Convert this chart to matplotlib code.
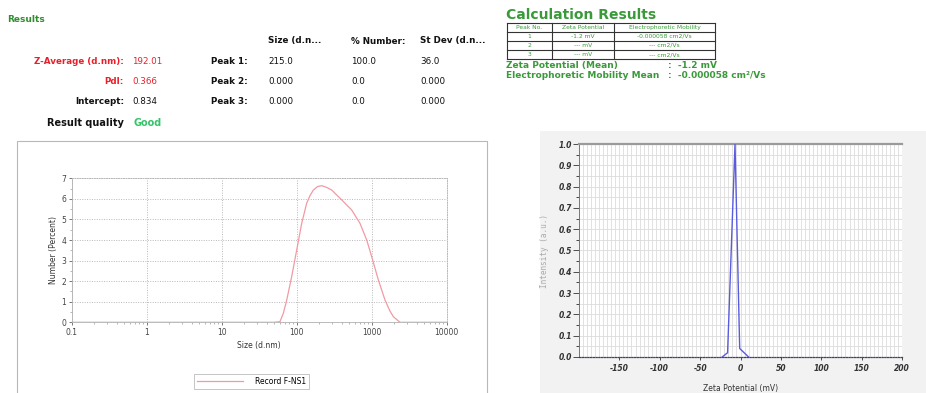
import matplotlib
matplotlib.use("Agg")
import matplotlib.pyplot as plt
from matplotlib.patches import Rectangle
from matplotlib.lines import Line2D
from matplotlib.ticker import MultipleLocator, FixedLocator, NullFormatter
import numpy as np

plt.rcParams["axes.unicode_minus"] = False

# ---------------- data ----------------
size_nm = [0.1, 1, 10, 50, 59.8, 66.5, 73.6, 85.7, 100, 116.6, 135.9, 150, 166.7, 190, 215,
           250, 292.9, 398, 541, 698, 858, 1000, 1226, 1506, 1750, 1945, 2387, 5000, 10000]
number_pct = [0, 0, 0, 0, 0.03, 0.45, 1.08, 2.22, 3.51, 4.81, 5.79, 6.15, 6.43, 6.6, 6.64,
              6.56, 6.43, 5.95, 5.46, 4.81, 4.0, 3.19, 2.06, 1.08, 0.55, 0.27, 0.0, 0, 0]

zeta_mv = [-22.7, -16, -6.8, -1, 10]
zeta_int = [0.0, 0.02, 1.0, 0.04, 0.0]

size_ticks = [0.1, 1, 10, 100, 1000, 10000]
size_tick_labels = ["0.1", "1", "10", "100", "1000", "10000"]
zeta_ticks = [-150, -100, -50, 0, 50, 100, 150, 200]

results_left = [("Z-Average (d.nm):", "192.01", "#e8202a"),
                ("PdI:", "0.366", "#e8202a"),
                ("Intercept:", "0.834", "#111111")]
peak_headers = ["Size (d.n...", "% Number:", "St Dev (d.n..."]
peak_rows = [("Peak 1:", "215.0", "100.0", "36.0"),
             ("Peak 2:", "0.000", "0.0", "0.000"),
             ("Peak 3:", "0.000", "0.0", "0.000")]
calc_header = ["Peak No.", "Zeta Potential", "Electrophoretic Mobility"]
calc_rows = [("1", "-1.2 mV", "-0.000058 cm2/Vs"),
             ("2", "--- mV", "--- cm2/Vs"),
             ("3", "--- mV", "--- cm2/Vs")]

W, H = 926, 393
fig = plt.figure(figsize=(W / 100, H / 100), dpi=100)
fig.patch.set_facecolor("white")

def fx(x):
    return x / W

def fy(y):
    return 1 - y / H

green = "#2f8f2f"
tgreen = "#3a9a3a"

# ---------------- text panel ----------------
fig.text(fx(7), fy(20), "Results", color=green, fontsize=6.5, fontweight="bold", va="center")
hx = [268, 351, 420]
for x, h in zip(hx, peak_headers):
    fig.text(fx(x), fy(41), h, fontsize=6.3, fontweight="bold", color="#111", va="center")
ys = [62, 82, 102]
for y, (lab, val, col) in zip(ys, results_left):
    fig.text(fx(124), fy(y), lab, fontsize=6.3, fontweight="bold", color=col, ha="right", va="center")
    fig.text(fx(132), fy(y), val, fontsize=6.3, color=col, va="center")
fig.text(fx(124), fy(123), "Result quality", fontsize=7, fontweight="bold", color="#111", ha="right", va="center")
fig.text(fx(134), fy(123), "Good", fontsize=7, fontweight="bold", color="#33c46a", va="center")
for y, row in zip(ys, peak_rows):
    fig.text(fx(248), fy(y), row[0], fontsize=6.3, fontweight="bold", color="#111", ha="right", va="center")
    for x, v in zip(hx, row[1:]):
        fig.text(fx(x), fy(y), v, fontsize=6.3, color="#111", va="center")

# ---------------- calculation results ----------------
fig.text(fx(506), fy(15), "Calculation Results", color=tgreen, fontsize=10, fontweight="bold", va="center")
cx = [506.5, 552, 614, 715]
ry = [22.7, 31.7, 40.7, 50, 59.3]
for y in ry:
    fig.add_artist(Line2D([fx(cx[0]), fx(cx[-1])], [fy(y), fy(y)], color="#333", lw=0.8))
for x in cx:
    fig.add_artist(Line2D([fx(x), fx(x)], [fy(ry[0]), fy(ry[-1])], color="#333", lw=0.8))
for i, row in enumerate([calc_header] + [list(r) for r in calc_rows]):
    yc = (ry[i] + ry[i + 1]) / 2
    for j, t in enumerate(row):
        xc = (cx[j] + cx[j + 1]) / 2
        fig.text(fx(xc), fy(yc), t, fontsize=4.3, color=tgreen, ha="center", va="center")
fig.text(fx(506), fy(65.5), "Zeta Potential (Mean)", color=tgreen, fontsize=6.5, fontweight="bold", va="center")
fig.text(fx(668), fy(65.5), ":  -1.2 mV", color=tgreen, fontsize=6.5, fontweight="bold", va="center")
fig.text(fx(506), fy(75.5), "Electrophoretic Mobility Mean", color=tgreen, fontsize=6.5, fontweight="bold", va="center")
fig.text(fx(668), fy(75.5), ":  -0.000058 cm\u00b2/Vs", color=tgreen, fontsize=6.5, fontweight="bold", va="center")

# ---------------- left chart frame ----------------
fig.add_artist(Rectangle((fx(17), fy(400)), fx(487) - fx(17), fy(141) - fy(400),
                         transform=fig.transFigure, fill=False, edgecolor="#b8b8b8", lw=0.8))

# right panel background
fig.add_artist(Rectangle((fx(540), 0), 1 - fx(540), fy(131), transform=fig.transFigure,
                         facecolor="#f2f2f2", edgecolor="none", zorder=0))

# ---------------- size distribution ----------------
ax1 = fig.add_axes([fx(71.7), fy(322.3), fx(446.7) - fx(71.7), fy(178.3) - fy(322.3)])
ax1.plot(size_nm, number_pct, color="#f29aa3", lw=0.9, label="Record F-NS1", zorder=3)
ax1.set_xscale("log")
ax1.set_xlim(0.1, 10000)
ax1.set_ylim(0, 7)
ax1.xaxis.set_major_locator(FixedLocator(size_ticks))
ax1.set_xticklabels(size_tick_labels)
ax1.xaxis.set_minor_formatter(NullFormatter())
ax1.yaxis.set_major_locator(MultipleLocator(1))
ax1.yaxis.set_minor_locator(MultipleLocator(0.5))
ax1.grid(True, which="major", color="#b8b8b8", ls=(0, (1, 1.5)), lw=0.7)
ax1.tick_params(labelsize=5.5, colors="#444", length=2, width=0.5, pad=2)
ax1.tick_params(which="minor", length=1.5, width=0.5, colors="#999")
ax1.set_xlabel("Size (d.nm)", fontsize=5.5, color="#333", labelpad=3)
ax1.set_ylabel("Number (Percent)", fontsize=5.5, color="#333", labelpad=2)
for s in ["top", "right"]:
    ax1.spines[s].set_linestyle((0, (1, 1.5)))
    ax1.spines[s].set_color("#b8b8b8")
    ax1.spines[s].set_linewidth(0.7)
for s in ["left", "bottom"]:
    ax1.spines[s].set_color("#b0b0b0")
    ax1.spines[s].set_linewidth(0.6)
leg = ax1.legend(loc="upper center", bbox_to_anchor=(0.48, -0.33), fontsize=5.5, frameon=True,
                 fancybox=False, edgecolor="#aaaaaa", handlelength=6, borderpad=0.4,
                 handletextpad=1.5)
leg.get_frame().set_linewidth(0.6)

# ---------------- zeta potential ----------------
ax2 = fig.add_axes([fx(579), fy(357), fx(902) - fx(579), fy(144) - fy(357)])
ax2.set_facecolor("white")
ax2.plot(zeta_mv, zeta_int, color="#5b5be0", lw=1.0, zorder=3)
ax2.set_xlim(-200, 200)
ax2.set_ylim(0, 1)
ax2.xaxis.set_major_locator(FixedLocator(zeta_ticks))
ax2.xaxis.set_minor_locator(MultipleLocator(5))
ax2.yaxis.set_major_locator(MultipleLocator(0.1))
ax2.yaxis.set_minor_locator(MultipleLocator(0.05))
ax2.yaxis.set_major_formatter(matplotlib.ticker.FormatStrFormatter("%.1f"))
ax2.grid(True, which="both", color="#dcdcdc", lw=0.6)
ax2.tick_params(axis="y", labelsize=5.5, colors="#333", length=4, width=0.6, pad=1)
ax2.tick_params(axis="y", which="minor", length=2, width=0.5)
ax2.tick_params(axis="x", labelsize=5.5, colors="#333", length=2, width=0.6, pad=3)
ax2.tick_params(axis="x", which="minor", length=0)
for lab in ax2.get_xticklabels() + ax2.get_yticklabels():
    lab.set_fontstyle("italic")
    lab.set_fontweight("bold")
ax2.spines["top"].set_color("#9a9a9a")
ax2.spines["top"].set_linewidth(1.6)
ax2.spines["left"].set_color("#777")
ax2.spines["left"].set_linewidth(0.7)
ax2.spines["right"].set_visible(False)
ax2.spines["bottom"].set_linestyle((0, (1, 1.2)))
ax2.spines["bottom"].set_color("#404060")
ax2.spines["bottom"].set_linewidth(0.9)
ax2.set_ylabel("Intensity (a.u.)", fontsize=5.5, color="#aaaaaa", family="DejaVu Sans Mono", labelpad=7)
ax2.set_xlabel("Zeta Potential (mV)", fontsize=5.5, color="#333", labelpad=8)

fig.savefig("out.png", dpi=100, facecolor="white")
